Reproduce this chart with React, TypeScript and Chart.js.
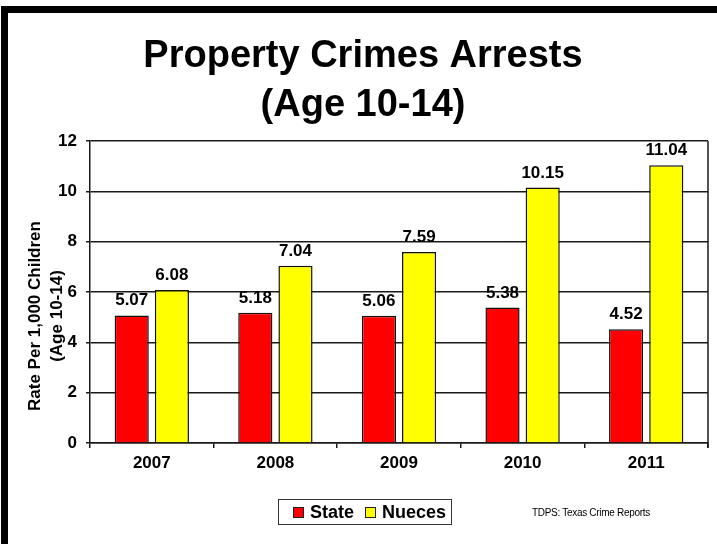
import React, { useEffect, useRef } from "react";
import { Chart, registerables } from "chart.js";

Chart.register(...registerables);

const years = ["2007", "2008", "2009", "2010", "2011"];
const stateValues = [5.07, 5.18, 5.06, 5.38, 4.52];
const nuecesValues = [6.08, 7.04, 7.59, 10.15, 11.04];
const titleLines = ["Property Crimes Arrests", "(Age 10-14)"];
const yTitleLines = ["Rate Per 1,000 Children", "(Age 10-14)"];
const seriesNames = ["State", "Nueces"];
const sourceText = "TDPS: Texas Crime Reports";

const FONT = "'Liberation Sans', Arial, sans-serif";
const RED = "#ff0000";
const YELLOW = "#ffff00";

const titlePlugin = {
  id: "customTitle",
  afterDraw(chart: any) {
    const ctx = chart.ctx;
    ctx.save();
    ctx.fillStyle = "#000";
    ctx.textAlign = "center";
    ctx.textBaseline = "alphabetic";
    ctx.font = `bold 38px ${FONT}`;
    ctx.fillText(titleLines[0], 363, 67);
    ctx.fillText(titleLines[1], 363, 116);
    ctx.restore();
  },
};

const yTitlePlugin = {
  id: "yTitle",
  afterDraw(chart: any) {
    const ctx = chart.ctx;
    ctx.save();
    ctx.fillStyle = "#000";
    ctx.textAlign = "center";
    ctx.textBaseline = "middle";
    ctx.font = `bold 17px ${FONT}`;
    ctx.translate(35, 316);
    ctx.rotate(-Math.PI / 2);
    ctx.fillText(yTitleLines[0], 0, 0);
    ctx.fillText(yTitleLines[1], 0, 22);
    ctx.restore();
  },
};

const frameAndLabels = {
  id: "frameAndLabels",
  afterDatasetsDraw(chart: any) {
    const ctx = chart.ctx;
    const area = chart.chartArea;
    ctx.save();
    ctx.strokeStyle = "#1a1a1a";
    ctx.lineWidth = 1.5;
    ctx.beginPath();
    ctx.moveTo(area.right, area.top);
    ctx.lineTo(area.right, area.bottom + 5);
    ctx.stroke();

    ctx.fillStyle = "#000";
    ctx.textAlign = "center";
    ctx.textBaseline = "alphabetic";
    ctx.font = `bold 17px ${FONT}`;
    chart.data.datasets.forEach((ds: any, di: number) => {
      const meta = chart.getDatasetMeta(di);
      meta.data.forEach((el: any, i: number) => {
        ctx.fillText(Number(ds.data[i]).toFixed(2), el.x, el.y - 10);
      });
    });
    ctx.restore();
  },
};

export default function App() {
  const canvasRef = useRef<HTMLCanvasElement | null>(null);

  useEffect(() => {
    if (!canvasRef.current) return;
    const chart = new Chart(canvasRef.current, {
      type: "bar",
      data: {
        labels: years,
        datasets: [
          {
            label: seriesNames[0],
            data: stateValues,
            backgroundColor: RED,
            borderColor: "#111",
            borderWidth: 1.5,
            categoryPercentage: 0.65,
            barPercentage: 0.85,
          },
          {
            label: seriesNames[1],
            data: nuecesValues,
            backgroundColor: YELLOW,
            borderColor: "#111",
            borderWidth: 1.5,
            categoryPercentage: 0.65,
            barPercentage: 0.85,
          },
        ],
      },
      options: {
        animation: false,
        responsive: true,
        maintainAspectRatio: false,
        layout: { padding: { top: 141, left: 10, right: 9, bottom: 61 } },
        plugins: {
          legend: { display: false },
          title: { display: false },
          tooltip: { enabled: false },
        },
        scales: {
          x: {
            afterFit: (s: any) => {
              s.height = 40;
            },
            grid: {
              display: true,
              offset: true,
              drawOnChartArea: false,
              tickLength: 5,
              color: "#1a1a1a",
              lineWidth: 1.5,
            },
            border: { display: true, color: "#1a1a1a", width: 1.5 },
            ticks: {
              color: "#000",
              padding: 5,
              font: { family: FONT, size: 17, weight: "bold" },
            },
          },
          y: {
            min: 0,
            max: 12,
            afterFit: (s: any) => {
              s.width = 80;
            },
            grid: {
              color: "#1a1a1a",
              lineWidth: 1.5,
              tickLength: 4,
            },
            border: { display: true, color: "#1a1a1a", width: 1.5 },
            ticks: {
              stepSize: 2,
              color: "#000",
              padding: 9,
              font: { family: FONT, size: 17, weight: "bold" },
            },
          },
        },
      },
      plugins: [titlePlugin, yTitlePlugin, frameAndLabels],
    });
    return () => chart.destroy();
  }, []);

  const legendItem = (color: string, text: string, left: number) => (
    <div
      style={{
        position: "absolute",
        left,
        top: 0,
        height: 24,
        display: "flex",
        alignItems: "center",
      }}
    >
      <span
        style={{
          display: "inline-block",
          width: 9,
          height: 9,
          background: color,
          border: "1px solid #222",
          marginRight: 6,
        }}
      />
      <span style={{ fontFamily: FONT, fontWeight: "bold", fontSize: 18, color: "#000" }}>{text}</span>
    </div>
  );

  return (
    <div
      style={{
        position: "absolute",
        left: 0,
        top: 0,
        width: 717,
        height: 544,
        background: "#fff",
        overflow: "hidden",
      }}
    >
      <div
        style={{
          position: "absolute",
          left: 1,
          top: 6,
          width: 716,
          height: 538,
          borderTop: "7px solid #000",
          borderLeft: "7px solid #000",
          boxSizing: "border-box",
        }}
      />
      <div style={{ position: "absolute", left: 0, top: 0, width: 717, height: 544 }}>
        <canvas ref={canvasRef} />
      </div>
      <div
        style={{
          position: "absolute",
          left: 278,
          top: 499,
          width: 174,
          height: 26,
          border: "1.5px solid #333",
          boxSizing: "border-box",
        }}
      >
        {legendItem(RED, seriesNames[0], 14)}
        {legendItem(YELLOW, seriesNames[1], 86)}
      </div>
      <div
        style={{
          position: "absolute",
          left: 532,
          top: 507,
          fontFamily: FONT,
          fontSize: 10,
          letterSpacing: "-0.3px",
          color: "#000",
          whiteSpace: "nowrap",
        }}
      >
        {sourceText}
      </div>
    </div>
  );
}
